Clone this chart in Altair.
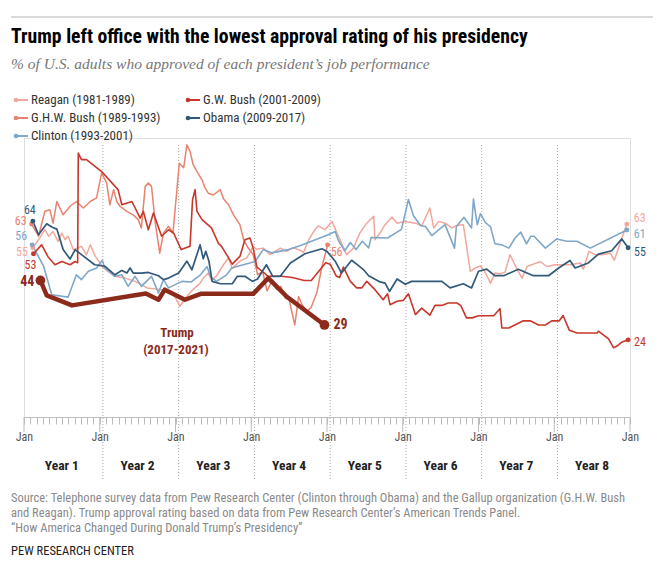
import altair as alt
import pandas as pd

# ---------------- text ----------------
TITLE = "Trump left office with the lowest approval rating of his presidency"
SUBTITLE = "% of U.S. adults who approved of each president\u2019s job performance"
SOURCE = [
    "Source: Telephone survey data from Pew Research Center (Clinton through Obama) and the Gallup organization (G.H.W. Bush",
    "and Reagan). Trump approval rating based on data from Pew Research Center\u2019s American Trends Panel.",
    "\u201cHow America Changed During Donald Trump\u2019s Presidency\u201d",
]
CREDIT = "PEW RESEARCH CENTER"
YEAR_LABELS = ["Year 1", "Year 2", "Year 3", "Year 4", "Year 5", "Year 6", "Year 7", "Year 8"]
TICK_LABEL = "Jan"
TRUMP_LABEL = ["Trump", "(2017-2021)"]

# ---------------- data (month of term, % approve) ----------------
reagan_m = [1.4, 2.3, 3.3, 3.9, 4.6, 5.4, 6.0, 6.5, 7.0, 7.8, 9.1, 9.9, 10.5, 11.3, 12.6, 14.4, 16.0, 17.6,
            19.5, 21.4, 22.7, 23.8, 24.7, 25.8, 26.8, 27.9, 28.4, 29.2, 29.7, 30.5, 31.6, 32.4, 33.0, 34.2,
            35.3, 36.3, 36.8, 37.9, 39.0, 40.6, 41.6, 42.6, 43.5, 44.3, 45.1, 45.9, 46.6, 47.7, 48.8, 49.8,
            51.1, 52.2, 53.2, 54.3, 55.4, 55.6, 56.4, 57.2, 58.3, 59.1, 60.4, 62.0, 63.0, 64.3, 64.9, 65.7,
            66.7, 67.8, 68.5, 69.6, 70.7, 71.5, 72.3, 73.0, 73.9, 74.6, 75.4, 76.2, 77.0, 78.0, 78.9, 79.7,
            81.8, 82.8, 84.2, 86.5, 88.1, 88.6, 89.5, 90.5, 91.5, 92.9, 93.5, 95.5]
reagan_v = [55, 57.7, 61.1, 58.9, 60.5, 57.2, 60, 57.7, 58.9, 54.4, 55.5, 52.7, 56, 52.1, 48.2, 45.4, 44.8, 43.7,
            41.5, 41, 40.5, 39, 35.3, 38.6, 41, 43.1, 44.8, 46.5, 44, 45.5, 49.3, 51.6, 48, 50.5,
            51.6, 55.5, 54.5, 54.9, 52.7, 54.9, 53.8, 55, 54.4, 53.5, 57.7, 60.5, 62.4, 61.1, 63.9, 58.9,
            52.7, 54.9, 60, 63.3, 65.6, 57.7, 60, 62.8, 65.4, 63.3, 63.9, 63.3, 62.4, 68.4, 61.7, 63.9,
            63.3, 61.7, 62.5, 62.8, 47.1, 48.2, 48.9, 47, 43.1, 46.5, 46.3, 46.8, 52.7, 48.2, 44.8, 48.7,
            50.4, 48.7, 49.3, 49.3, 49.9, 47.8, 53.8, 52.7, 52.7, 53.2, 50.8, 63]

ghw_m = [1.2, 2.3, 3.3, 4.1, 4.6, 5.2, 6.2, 7.3, 8.3, 9.4, 10.5, 11.5, 12.3, 13.1, 13.6, 14.2, 14.7, 15.2,
         16.3, 17.3, 18.1, 18.6, 19.2, 19.7, 20.2, 20.8, 21.5, 22.1, 22.9, 23.6, 24.6, 25.3, 25.8, 26.3,
         26.8, 27.4, 28.2, 28.7, 29.2, 30.0, 31.1, 31.6, 32.4, 33.2, 34.2, 34.8, 35.5, 36.3, 37.0, 37.8,
         38.5, 39.3, 40.0, 40.7, 41.4, 42.0, 42.9, 43.5, 44.0, 44.8, 45.5, 46.4, 47.2, 48.1]
ghw_v = [63, 58.9, 67.3, 67.8, 63.3, 70.6, 66.1, 69, 70.6, 68.4, 70.6, 71.8, 80.2, 76.8, 69.5, 74.6, 70.6, 69,
         67.3, 66.1, 64.5, 61.7, 75.7, 76.8, 75.7, 63.3, 53.2, 60, 62.2, 60, 83.5, 82, 89.7, 87.5,
         83, 80.7, 77.9, 75.1, 73.4, 72.8, 74.6, 71.5, 69.5, 66.1, 62.8, 57.7, 55, 52.7, 46, 47,
         40.5, 44, 41, 42, 38, 37.5, 29, 38.6, 36, 33.6, 35, 40, 48.7, 56]

clinton_m = [1.3, 3.1, 4.4, 7.0, 8.3, 9.1, 10.2, 11.5, 12.4, 12.8, 14.4, 15.5, 16.5, 17.6, 18.6, 20.2, 21.3,
             22.1, 22.9, 25.0, 26.5, 28.0, 29.0, 29.5, 30.5, 32.1, 32.9, 36.6, 37.9, 39.2, 41.9, 43.7, 48.2,
             49.3, 49.8, 50.8, 51.7, 52.6, 53.6, 54.6, 55.0, 57.6, 59.8, 60.9, 61.7, 62.8, 63.6, 64.6, 66.7,
             68.2, 68.5, 69.7, 70.9, 71.2, 71.8, 72.3, 73.1, 73.9, 74.6, 75.7, 76.8, 77.8, 78.7, 79.6, 80.3,
             80.8, 82.6, 84.4, 86.0, 87.6, 89.7, 95.5]
clinton_v = [56, 48.8, 39.2, 38.4, 45.9, 44.3, 47.1, 48.2, 50.8, 48.2, 45.4, 45.9, 42, 45.4, 42, 45.4, 39.8,
             44.3, 41.5, 43.7, 43.5, 46, 48.7, 45.4, 43.7, 45.9, 48.2, 50.4, 54.4, 53.3, 54.4, 55.7, 59.4,
             60.5, 57.5, 54, 56.8, 54.4, 57.2, 55, 58.5, 58.3, 61.2, 71.3, 65.8, 62.5, 62.2, 59.1, 62.8,
             54.9, 62.2, 65.3, 61.7, 71.4, 62.8, 66.5, 63.5, 62.1, 56.4, 56.0, 54.9, 58.3, 60.3, 56.3, 58.9,
             58.9, 54.9, 58.0, 57.2, 57.2, 54.9, 61]

gwb_m = [1.5, 2.8, 3.8, 4.9, 6.0, 7.3, 8.1, 8.5, 8.6, 9.1, 9.9, 12.3, 14.9, 15.5, 17.1, 18.4, 18.9, 19.7,
         20.5, 21.8, 22.9, 23.7, 24.9, 26.3, 26.7, 27.1, 27.4, 28.2, 29.7, 30.8, 31.3, 33.0, 34.2, 35.0,
         35.8, 36.3, 36.9, 38.7, 40.8, 42.5, 44.4, 45.5, 47.8, 48.5, 49.5, 50.0, 50.6, 51.7, 52.7, 53.5,
         54.3, 55.6, 56.9, 57.6, 58.0, 59.1, 60.1, 60.9, 62.0, 63.0, 64.3, 65.1, 66.2, 67.2, 68.6, 69.2,
         70.1, 71.0, 72.0, 74.4, 75.4, 75.7, 76.8, 79.1, 80.2, 81.5, 82.6, 83.6, 84.8, 85.4, 86.4, 87.6,
         90.8, 91.0, 92.6, 93.4, 94.0, 94.7, 95.7]
gwb_v = [53, 56, 52, 49.3, 50.4, 49.3, 50.4, 50, 86.9, 84.7, 84.7, 80.7, 74.6, 69.5, 70.6, 65, 67.3, 61.1,
         66.7, 58.9, 61.1, 60, 54.4, 55.5, 71.2, 74.6, 67.3, 64.5, 61.7, 56.5, 55.5, 49.5, 52.1, 57.7,
         58.3, 54.9, 48.5, 45.4, 45.4, 45, 44, 44, 50, 49.5, 45.4, 45, 48.5, 43.7, 41.5, 41.5,
         43.7, 40.9, 37.5, 39.5, 35.8, 37, 37.3, 39.5, 32.5, 34.7, 32.3, 35.6, 35.6, 36.4, 36.4, 35.5,
         31.4, 31.4, 32.1, 32.1, 34.5, 28, 28, 30.4, 30.4, 29, 29, 30.4, 30.4, 32.2, 27.2, 26.3,
         26.3, 26.9, 24.3, 21.3, 22, 23.2, 24]

obama_m = [1.4, 2.3, 3.6, 4.4, 5.2, 6.2, 7.3, 8.1, 9.1, 11.2, 12.8, 14.4, 15.5, 16.3, 16.8, 17.3, 18.6, 19.7,
           21.3, 22.1, 22.9, 24.5, 25.8, 26.6, 27.9, 28.4, 28.8, 29.3, 29.8, 31.1, 33.0, 33.8, 35.0, 36.2,
           37.0, 38.4, 39.4, 40.6, 42.2, 44.5, 47.2, 48.0, 49.3, 50.3, 51.9, 53.0, 53.8, 54.6, 56.4, 57.2,
           57.9, 59.1, 60.4, 61.4, 62.8, 66.2, 67.5, 69.6, 70.9, 72.0, 73.3, 74.6, 76.0, 78.3, 80.7, 83.1,
           84.7, 86.5, 87.3, 89.4, 91.0, 93.1, 94.7, 95.7]
obama_v = [64, 59.4, 63.1, 62, 61.3, 54.4, 51.2, 54.4, 52.7, 49.3, 48.8, 45.9, 47.4, 46.5, 48.2, 46.5, 46.5, 46.7,
           45.6, 44.3, 44.8, 46.5, 50.5, 47.6, 56, 51.3, 53.8, 50.5, 43.7, 42.9, 42.9, 45.4, 45.4, 43.7,
           44.5, 49.3, 45.4, 45.4, 49.9, 53, 54.7, 53.8, 50.5, 46.5, 50.8, 49, 47.6, 45.6, 43.5, 43.1,
           40.3, 44.5, 42.7, 43.7, 43.7, 43.7, 41.5, 42.9, 41.5, 47.1, 47.8, 45.6, 45.6, 47.8, 45.6, 45.6,
           48.2, 50.7, 48.2, 49.9, 52.9, 54.0, 58.0, 55]

trump_m = [2.6, 3.6, 7.6, 19.3, 21.3, 22.3, 25.5, 28.0, 36.3, 38.7, 41.6, 47.6]
trump_v = [44, 39, 35.6, 39.6, 37.5, 40.9, 37.5, 39.5, 39.5, 44.8, 38.6, 29]

# ---------------- style ----------------
COND = "Liberation Sans Narrow, Roboto Condensed, Arial Narrow, Roboto, sans-serif"
SERIF = "Liberation Serif, DejaVu Serif, serif"
C_REAGAN = "#F2A79D"
C_GHW = "#E8826F"
C_CLINTON = "#7FA7C8"
C_GWB = "#C8372B"
C_OBAMA = "#33597A"
C_TRUMP = "#8C2A1B"

W, H = 606, 279

X = alt.X(
    "month:Q",
    scale=alt.Scale(domain=[0, 96], nice=False, zero=False),
    axis=alt.Axis(
        values=list(range(97)),
        labelExpr=f"datum.value % 12 == 0 ? '{TICK_LABEL}' : ''",
        tickSize=7, tickColor="#bdbdbd", tickWidth=1,
        domainColor="#bdbdbd", domainWidth=1,
        grid=False, title=None,
        labelFont=COND, labelFontSize=12, labelColor="#555555",
        labelPadding=7, labelOverlap=False, labelFlush=False,
    ),
)
Y = alt.Y("approval:Q", scale=alt.Scale(domain=[-2, 92], nice=False, zero=False), axis=None)


def one(t=""):
    return alt.Chart(pd.DataFrame({"t": [t]}))


def text(t, x, y, size, color, weight="normal", font=COND, align="left", style="normal"):
    return one(t).mark_text(
        text=t, align=align, baseline="middle", font=font, fontSize=size,
        fontWeight=weight, color=color, fontStyle=style,
    ).encode(x=alt.value(x), y=alt.value(y))


series = [
    ("Reagan (1981-1989)", reagan_m, reagan_v, C_REAGAN, 1.5),
    ("G.H.W. Bush (1989-1993)", ghw_m, ghw_v, C_GHW, 1.5),
    ("Clinton (1993-2001)", clinton_m, clinton_v, C_CLINTON, 1.6),
    ("G.W. Bush (2001-2009)", gwb_m, gwb_v, C_GWB, 1.6),
    ("Obama (2009-2017)", obama_m, obama_v, C_OBAMA, 1.7),
    ("Trump (2017-2021)", trump_m, trump_v, C_TRUMP, 4.5),
]

layers = []

# top rule, title, subtitle
layers.append(one().mark_rule(color="#cccccc", strokeWidth=1.5).encode(
    x=alt.value(-13), x2=alt.value(631), y=alt.value(-121)))
layers.append(text(TITLE, -13, -101, 19.7, "#000000", weight="bold"))
layers.append(text(SUBTITLE, -13, -74, 15.5, "#777777", font=SERIF, style="italic"))

# legend (built by hand, two columns)
legend_items = [
    (series[0][0], C_REAGAN, -10, -38),
    (series[1][0], C_GHW, -10, -20),
    (series[2][0], C_CLINTON, -10, -2),
    (series[3][0], C_GWB, 162, -38),
    (series[4][0], C_OBAMA, 162, -20),
]
for name, col, lx, ly in legend_items:
    layers.append(one().mark_rule(color=col, strokeWidth=2).encode(
        x=alt.value(lx), x2=alt.value(lx + 14), y=alt.value(ly)))
    layers.append(one().mark_circle(color=col, opacity=1, size=22).encode(
        x=alt.value(lx + 2), y=alt.value(ly)))
    layers.append(text(name, lx + 17, ly, 13, "#333333"))

# vertical dotted separators between years
sep = pd.DataFrame({"month": [12 * k + 0.5 for k in range(1, 8)]})
layers.append(alt.Chart(sep).mark_rule(color="#a8a8a8", strokeWidth=1, strokeDash=[1, 2]).encode(
    x=X, y=alt.value(7), y2=alt.value(H + 62)))

# major (January) ticks
maj = pd.DataFrame({"month": [12 * k for k in range(9)]})
layers.append(alt.Chart(maj).mark_rule(color="#bdbdbd", strokeWidth=1).encode(
    x=X, y=alt.value(H), y2=alt.value(H + 15)))

# year labels
yl = pd.DataFrame({"month": [12 * k + 6 for k in range(8)], "lab": YEAR_LABELS})
layers.append(alt.Chart(yl).mark_text(font=COND, fontSize=13.5, fontWeight="bold", color="#222222",
                                      baseline="middle").encode(x=X, y=alt.value(H + 49), text="lab:N"))

# lines
frames = {}
for name, ms, vs, col, sw in series:
    df = pd.DataFrame({"month": ms, "approval": vs})
    frames[name] = df
    layers.append(alt.Chart(df).mark_line(color=col, strokeWidth=sw, strokeJoin="round").encode(x=X, y=Y))

# end dots
for name, ms, vs, col, sw in series:
    df = frames[name]
    ends = df.iloc[[0, len(df) - 1]]
    size = 95 if name.startswith("Trump") else 24
    layers.append(alt.Chart(ends).mark_circle(color=col, opacity=1, size=size).encode(x=X, y=Y))

# value labels at the ends of the lines
label_specs = [
    # series index, first/last, dx, dy, align, bold, color
    (4, 0, -3, -11, "center", False, C_OBAMA),
    (1, 0, -5, -3, "right", False, C_GHW),
    (2, 0, -5, -9, "right", False, C_CLINTON),
    (0, 0, -5, 4, "right", False, C_REAGAN),
    (3, 0, -3, 11, "center", False, C_GWB),
    (5, 0, -6, 2, "right", True, C_TRUMP),
    (0, -1, 7, -6, "left", False, C_REAGAN),
    (2, -1, 7, 3.5, "left", False, C_CLINTON),
    (4, -1, 6, 4, "left", False, C_OBAMA),
    (3, -1, 6, 2, "left", False, C_GWB),
    (5, -1, 9, 0, "left", True, C_TRUMP),
    (1, -1, 3, 7, "left", False, C_GHW),
]
for idx, pos, dx, dy, al, bold, col in label_specs:
    name = series[idx][0]
    df = frames[name]
    row = df.iloc[[pos]].copy()
    row["lab"] = row["approval"].map(lambda v: f"{v:.0f}")
    layers.append(alt.Chart(row).mark_text(
        font=COND, fontSize=14 if bold else 12, fontWeight="bold" if bold else "normal", color=col,
        align=al, baseline="middle", dx=dx, dy=dy).encode(x=X, y=Y, text="lab:N"))

# Trump annotation
layers.append(text(TRUMP_LABEL[0], 153, 195, 13, C_TRUMP, weight="bold", align="center"))
layers.append(text(TRUMP_LABEL[1], 152, 212, 13, C_TRUMP, weight="bold", align="center"))

# footer
for i, line in enumerate(SOURCE):
    layers.append(text(line, -13, 360 + 15 * i, 12.5, "#8a8a8a"))
layers.append(text(CREDIT, -13, 413, 12.5, "#222222"))

chart = alt.layer(*layers).properties(
    width=W, height=H,
    padding={"left": 16, "top": 130, "right": 23, "bottom": 141},
    autosize=alt.AutoSizeParams(type="none"),
).configure_view(stroke=None).configure(background="white")

chart.save("out.html", embed_options={"renderer": "svg", "actions": False})
